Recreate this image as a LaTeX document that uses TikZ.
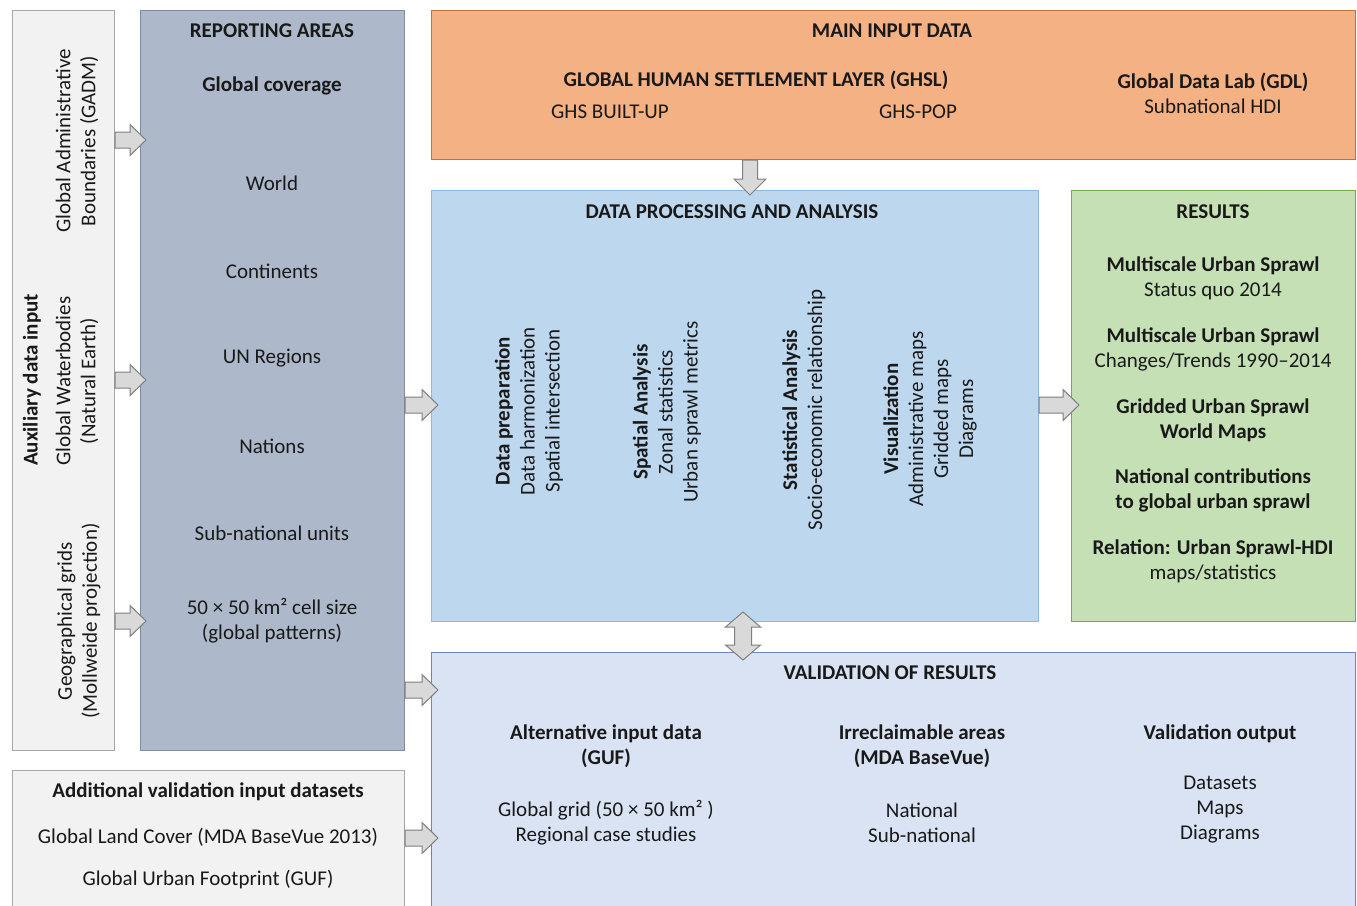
\documentclass[tikz,border=0pt]{standalone}
\usepackage{fontspec}
\setmainfont{Carlito}
\definecolor{auxfill}{HTML}{F2F2F2}
\definecolor{auxline}{HTML}{A6A6A6}
\definecolor{repfill}{HTML}{ADB9CA}
\definecolor{repline}{HTML}{7D8CA3}
\definecolor{inpfill}{HTML}{F4B183}
\definecolor{inpline}{HTML}{C5703A}
\definecolor{dpfill}{HTML}{BDD7EE}
\definecolor{dpline}{HTML}{8DB8E2}
\definecolor{resfill}{HTML}{C5E0B4}
\definecolor{resline}{HTML}{70AD47}
\definecolor{valfill}{HTML}{DAE3F3}
\definecolor{valline}{HTML}{6A86BE}
\definecolor{arrfill}{HTML}{D9D9D9}
\definecolor{arrline}{HTML}{7F7F7F}
\newcommand\bodyfont{\fontsize{21}{25}\selectfont}
\tikzset{
  box/.style={draw, line width=1pt, anchor=north west, inner sep=0pt},
  txt/.style={font=\bodyfont, align=center, inner sep=0pt, text=black!90},
  btxt/.style={txt, font=\bodyfont\bfseries},
  blockarrow/.style={draw=arrline, fill=arrfill, line width=1pt, line join=miter},
}
\newcommand\harr[2]{\draw[blockarrow] ([yshift=8pt]#1) -- ([xshift=-16pt,yshift=8pt]#2) -- ([xshift=-16pt,yshift=15.5pt]#2) -- (#2) -- ([xshift=-16pt,yshift=-15.5pt]#2) -- ([xshift=-16pt,yshift=-8pt]#2) -- ([yshift=-8pt]#1) -- cycle;}
\newcommand\darr[2]{\draw[blockarrow] ([xshift=-7.5pt]#1) -- ([xshift=-7.5pt,yshift=16pt]#2) -- ([xshift=-16pt,yshift=16pt]#2) -- (#2) -- ([xshift=16pt,yshift=16pt]#2) -- ([xshift=7.5pt,yshift=16pt]#2) -- ([xshift=7.5pt]#1) -- cycle;}
\newcommand\dblarr[2]{\draw[blockarrow] (#1) -- ([xshift=17.5pt,yshift=-15pt]#1) -- ([xshift=8.5pt,yshift=-15pt]#1) -- ([xshift=8.5pt,yshift=15pt]#2) -- ([xshift=17.5pt,yshift=15pt]#2) -- (#2) -- ([xshift=-17.5pt,yshift=15pt]#2) -- ([xshift=-8.5pt,yshift=15pt]#2) -- ([xshift=-8.5pt,yshift=-15pt]#1) -- ([xshift=-17.5pt,yshift=-15pt]#1) -- cycle;}
\begin{document}
\begin{tikzpicture}[x=1pt,y=-1pt]
\clip (0,0) rectangle (1357,905);
\fill[white] (0,0) rectangle (1357,905);
% boxes
\node[box, draw=auxline, fill=auxfill, minimum width=102pt, minimum height=740pt] (aux) at (12,10) {};
\node[box, draw=repline, fill=repfill, minimum width=264pt, minimum height=740pt] (rep) at (140,10) {};
\node[box, draw=inpline, fill=inpfill, minimum width=924pt, minimum height=149pt] (inp) at (431,10) {};
\node[box, draw=dpline, fill=dpfill, minimum width=607pt, minimum height=431pt] (dp) at (431,190) {};
\node[box, draw=resline, fill=resfill, minimum width=284pt, minimum height=431pt] (res) at (1071,190) {};
\node[box, draw=valline, fill=valfill, minimum width=924pt, minimum height=280pt] (val) at (431,652) {};
\node[box, draw=auxline, fill=auxfill, minimum width=392pt, minimum height=160pt] (add) at (12,770) {};
% auxiliary texts
\node[txt, rotate=90] (gadm) at (77,141) {Global Administrative\\Boundaries (GADM)};
\node[btxt, rotate=90] (auxt) at (32,380) {Auxiliary data input};
\node[txt, rotate=90] (water) at (77,381) {Global Waterbodies\\(Natural Earth)};
\node[txt, rotate=90] (grids) at (79,621) {Geographical grids\\(Mollweide projection)};
% reporting areas
\node[btxt] (rept) at (272,31) {REPORTING AREAS};
\node[btxt] (glob) at (272,86) {Global coverage};
\node[txt] (world) at (272,183) {World};
\node[txt] (cont) at (272,271) {Continents};
\node[txt] (unreg) at (272,358) {UN Regions};
\node[txt] (nat) at (272,446) {Nations};
\node[txt] (subnat) at (272,533) {Sub-national units};
\node[txt] (cell) at (272,620.5) {50 × 50 km² cell size\\(global patterns)};
% main input
\node[btxt] (inpt) at (892,31) {MAIN INPUT DATA};
\node[btxt] (ghsl) at (756,80) {GLOBAL HUMAN SETTLEMENT LAYER (GHSL)};
\node[txt] (built) at (610,112) {GHS BUILT-UP};
\node[txt] (pop) at (918,112) {GHS-POP};
\node[txt] (gdl) at (1213,93.5) {\textbf{Global Data Lab (GDL)}\\Subnational HDI};
% data processing
\node[btxt] (dpt) at (732,212) {DATA PROCESSING AND ANALYSIS};
\node[txt, rotate=90] (prep) at (529,411) {\textbf{Data preparation}\\Data harmonization\\Spatial intersection};
\node[txt, rotate=90] (spat) at (667,412) {\textbf{Spatial Analysis}\\Zonal statistics\\Urban sprawl metrics};
\node[txt, rotate=90] (stat) at (804,410) {\textbf{Statistical Analysis}\\Socio-economic relationship};
\node[txt, rotate=90] (vis) at (930,419) {\textbf{Visualization}\\Administrative maps\\Gridded maps\\Diagrams};
% results
\node[btxt] (rest) at (1213,212) {RESULTS};
\node[txt] (r1) at (1213,278.5) {\textbf{Multiscale Urban Sprawl}\\Status quo 2014};
\node[txt] (r2) at (1213,349.5) {\textbf{Multiscale Urban Sprawl}\\Changes/Trends 1990–2014};
\node[btxt] (r3) at (1213,420.5) {Gridded Urban Sprawl\\World Maps};
\node[btxt] (r4) at (1213,490.5) {National contributions\\to global urban sprawl};
\node[txt] (r5) at (1213,561.5) {\textbf{Relation: Urban Sprawl-HDI}\\maps/statistics};
% validation
\node[btxt] (valt) at (890,673) {VALIDATION OF RESULTS};
\node[btxt] (alt) at (606,746.5) {Alternative input data\\(GUF)};
\node[txt] (altd) at (606,822.5) {Global grid (50 × 50 km² )\\Regional case studies};
\node[btxt] (irr) at (922,746.5) {Irreclaimable areas\\(MDA BaseVue)};
\node[txt] (irrd) at (922,822.5) {National\\Sub-national};
\node[btxt] (vout) at (1220,734) {Validation output};
\node[txt] (voutd) at (1220,810) {Datasets\\Maps\\Diagrams};
% additional validation
\node[btxt] (addt) at (208,792) {Additional validation input datasets};
\node[txt] (glc) at (208,837) {Global Land Cover (MDA BaseVue 2013)};
\node[txt] (guf) at (208,879) {Global Urban Footprint (GUF)};
% arrow end points
\coordinate (a1s) at (aux.east |- 0,140);   \coordinate (a1e) at (146,140);
\coordinate (a2s) at (aux.east |- 0,380);   \coordinate (a2e) at (146,380);
\coordinate (a3s) at (aux.east |- 0,621);   \coordinate (a3e) at (146,621);
\coordinate (b1s) at (rep.east |- 0,405);   \coordinate (b1e) at (438,405);
\coordinate (b2s) at (rep.east |- 0,690);   \coordinate (b2e) at (438,690);
\coordinate (c1s) at (add.east |- 0,838);   \coordinate (c1e) at (438,838);
\coordinate (d1s) at (dp.east |- 0,405);    \coordinate (d1e) at (1079,405);
\coordinate (e1s) at (inp.south -| 750,0);  \coordinate (e1e) at (750,195);
\coordinate (f1t) at (743,612);             \coordinate (f1b) at (743,660);
% block arrows
\harr{a1s}{a1e}
\harr{a2s}{a2e}
\harr{a3s}{a3e}
\harr{b1s}{b1e}
\harr{b2s}{b2e}
\harr{c1s}{c1e}
\harr{d1s}{d1e}
\darr{e1s}{e1e}
\dblarr{f1t}{f1b}
\end{tikzpicture}
\end{document}
